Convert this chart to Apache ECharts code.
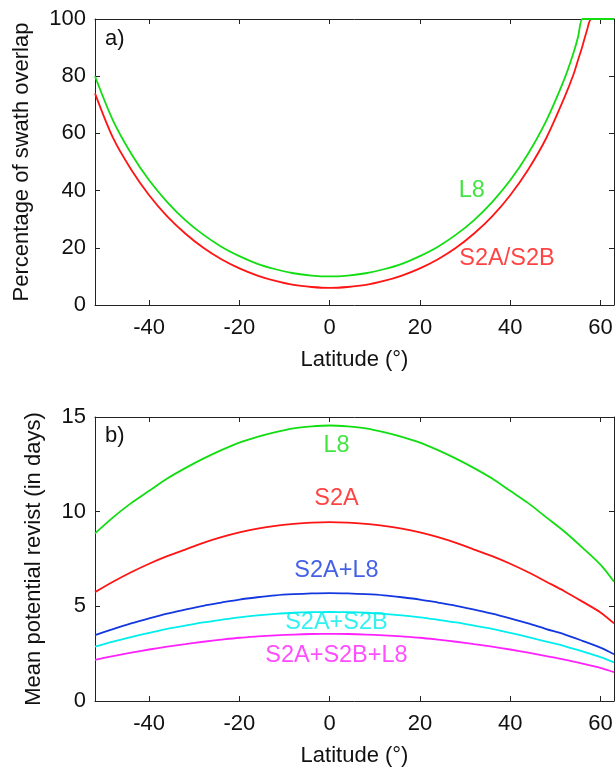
<!DOCTYPE html>
<html>
<head>
<meta charset="utf-8">
<script src="https://cdn.jsdelivr.net/npm/echarts@6/dist/echarts.min.js"></script>
<style>
  html, body { margin: 0; padding: 0; background: #fff; }
  #chart { width: 616px; height: 768px; }
</style>
</head>
<body>
<div id="chart"></div>
<script>
// ─── Data ───────────────────────────────────────────────────────────────────

const latTicks = [-40, -20, 0, 20, 40, 60];

// a) percentage of swath overlap
const latA = [-52, -48, -44, -40, -36, -32, -28, -24, -20, -16, -12, -8, -4, 0,
  4, 8, 12, 16, 20, 24, 28, 32, 36, 40, 44, 48, 52, 54, 55, 56, 57, 58, 60, 63];
const overlapL8 = [80, 64.5, 53, 43.6, 36, 29.7, 24.6, 20.4, 17.1, 14.4, 12.5, 11.1, 10.3, 10,
  10.3, 11.1, 12.5, 14.4, 17.1, 20.4, 24.6, 29.7, 36, 43.6, 53, 64.5, 79, 88, 93.5, 100, 100, 100, 100, 100];
const overlapS2 = [74, 58.4, 47.4, 38.4, 31, 25, 20, 16, 12.8, 10.3, 8.4, 7, 6.3, 6,
  6.3, 7, 8.4, 10.3, 12.8, 16, 20, 25, 31, 38.4, 47.4, 58.4, 72.5, 80.5, 85.5, 90.5, 96, 100, 100, 100];

// b) mean potential revisit (days)
const latB = [-52, -48, -44, -40, -36, -32, -28, -24, -20, -16, -12, -8, -4, 0,
  4, 8, 12, 16, 20, 24, 28, 32, 36, 40, 44, 48, 52, 56, 60, 63];
const revisitL8 = [8.85, 9.7, 10.45, 11.1, 11.75, 12.3, 12.8, 13.25, 13.65, 13.95, 14.2, 14.4, 14.5, 14.55,
  14.5, 14.4, 14.2, 13.95, 13.65, 13.25, 12.8, 12.3, 11.75, 11.1, 10.45, 9.7, 8.95, 8.1, 7.2, 6.3];
const revisitS2A = [5.75, 6.3, 6.8, 7.25, 7.65, 8.0, 8.35, 8.65, 8.9, 9.1, 9.25, 9.35, 9.42, 9.45,
  9.42, 9.35, 9.25, 9.1, 8.9, 8.65, 8.35, 8.0, 7.65, 7.25, 6.8, 6.3, 5.8, 5.25, 4.68, 4.1];
const revisitS2AL8 = [3.48, 3.8, 4.1, 4.37, 4.62, 4.83, 5.03, 5.2, 5.36, 5.48, 5.58, 5.64, 5.68, 5.7,
  5.68, 5.64, 5.58, 5.48, 5.36, 5.2, 5.03, 4.83, 4.62, 4.37, 4.1, 3.8, 3.52, 3.18, 2.82, 2.47];
const revisitS2AB = [2.87, 3.14, 3.38, 3.6, 3.81, 3.98, 4.15, 4.29, 4.42, 4.52, 4.6, 4.66, 4.69, 4.7,
  4.69, 4.66, 4.6, 4.52, 4.42, 4.29, 4.15, 3.98, 3.81, 3.6, 3.38, 3.14, 2.9, 2.62, 2.32, 2.04];
const revisitS2ABL8 = [2.17, 2.37, 2.55, 2.72, 2.87, 3.0, 3.13, 3.24, 3.34, 3.41, 3.47, 3.51, 3.54, 3.55,
  3.54, 3.51, 3.47, 3.41, 3.34, 3.24, 3.13, 3.0, 2.87, 2.72, 2.55, 2.37, 2.19, 1.98, 1.75, 1.52];

// in-plot curve labels: [text, latitude, value]
const labelsA = [['L8', 31.5, 40], ['S2A/S2B', 39.3, 16.4]];
const labelsB = [['L8', 1.5, 13.5], ['S2A', 1.5, 10.7], ['S2A+L8', 1.5, 6.9],
  ['S2A+S2B', 1.5, 4.15], ['S2A+S2B+L8', 1.5, 2.4]];

// ─── Styling ────────────────────────────────────────────────────────────────

const FONT = '"Liberation Sans", Arial, Helvetica, sans-serif';
const FS = 22;
const GREEN = '#11dd11';
const RED = '#ff1414';
const BLUE = '#1438e0';
const CYAN = '#00eeee';
const MAGENTA = '#ff22ff';
const colorOf = { 'L8': GREEN, 'S2A/S2B': RED, 'S2A': RED, 'S2A+L8': BLUE, 'S2A+S2B': CYAN, 'S2A+S2B+L8': MAGENTA };

const frameLine = { show: true, onZero: false, lineStyle: { color: '#222', width: 1 } };
const innerTick = (extra) => Object.assign({ show: true, inside: true, length: 5, lineStyle: { color: '#222', width: 1 } }, extra);
const tickLabel = { color: '#111', fontSize: FS, fontFamily: FONT };

function latAxis(grid, bottom) {
  return {
    type: 'value', gridIndex: grid, position: bottom ? 'bottom' : 'top',
    min: -52, max: 63,
    axisLine: frameLine,
    axisTick: innerTick({ customValues: latTicks }),
    axisLabel: bottom ? Object.assign({ margin: 12, customValues: latTicks }, tickLabel) : { show: false },
    splitLine: { show: false },
    name: bottom ? 'Latitude (°)' : '',
    nameLocation: 'middle', nameGap: 44,
    nameTextStyle: { color: '#111', fontSize: FS, fontFamily: FONT },
  };
}

function valAxis(grid, left, max, interval, name, gap) {
  return {
    type: 'value', gridIndex: grid, position: left ? 'left' : 'right',
    min: 0, max: max, interval: interval,
    axisLine: frameLine,
    axisTick: innerTick({}),
    axisLabel: left ? Object.assign({ margin: 9 }, tickLabel) : { show: false },
    splitLine: { show: false },
    name: left ? name : '',
    nameLocation: 'middle', nameGap: gap,
    nameTextStyle: { color: '#111', fontSize: FS, fontFamily: FONT },
  };
}

function curve(xIdx, yIdx, xs, ys, color) {
  return {
    type: 'line', xAxisIndex: xIdx, yAxisIndex: yIdx,
    data: xs.map((x, i) => [x, ys[i]]),
    showSymbol: false, smooth: 0.3, clip: true,
    lineStyle: { color: color, width: 1.8 },
    z: 3,
  };
}

function curveLabels(xIdx, yIdx, list) {
  return {
    type: 'scatter', xAxisIndex: xIdx, yAxisIndex: yIdx,
    symbolSize: 0, silent: true,
    data: list.map(([t, x, y]) => ({
      name: t, value: [x, y],
      label: { color: colorOf[t] },
    })),
    label: { show: true, position: 'inside', formatter: '{b}', fontSize: 23.5, fontFamily: FONT },
    z: 4,
  };
}

const option = {
  animation: false,
  backgroundColor: '#fff',
  grid: [
    { left: 95, top: 19, width: 519, height: 286 },
    { left: 95, top: 417, width: 519, height: 285 },
  ],
  xAxis: [latAxis(0, true), latAxis(0, false), latAxis(1, true), latAxis(1, false)],
  yAxis: [
    valAxis(0, true, 100, 20, 'Percentage of swath overlap', 62),
    valAxis(0, false, 100, 20, '', 0),
    valAxis(1, true, 15, 5, 'Mean potential revist (in days)', 50),
    valAxis(1, false, 15, 5, '', 0),
  ],
  graphic: [
    { type: 'text', left: 105, top: 28, style: { text: 'a)', fontSize: FS, fontFamily: FONT, fill: '#111' } },
    { type: 'text', left: 105, top: 425, style: { text: 'b)', fontSize: FS, fontFamily: FONT, fill: '#111' } },
  ],
  series: [
    curve(0, 0, latA, overlapS2, RED),
    curve(0, 0, latA, overlapL8, GREEN),
    curveLabels(0, 0, labelsA),
    curve(2, 2, latB, revisitL8, GREEN),
    curve(2, 2, latB, revisitS2A, RED),
    curve(2, 2, latB, revisitS2AL8, BLUE),
    curve(2, 2, latB, revisitS2AB, CYAN),
    curve(2, 2, latB, revisitS2ABL8, MAGENTA),
    curveLabels(2, 2, labelsB),
  ],
};

const chart = echarts.init(document.getElementById('chart'), null, { renderer: 'canvas' });
chart.setOption(option);
</script>
</body>
</html>
